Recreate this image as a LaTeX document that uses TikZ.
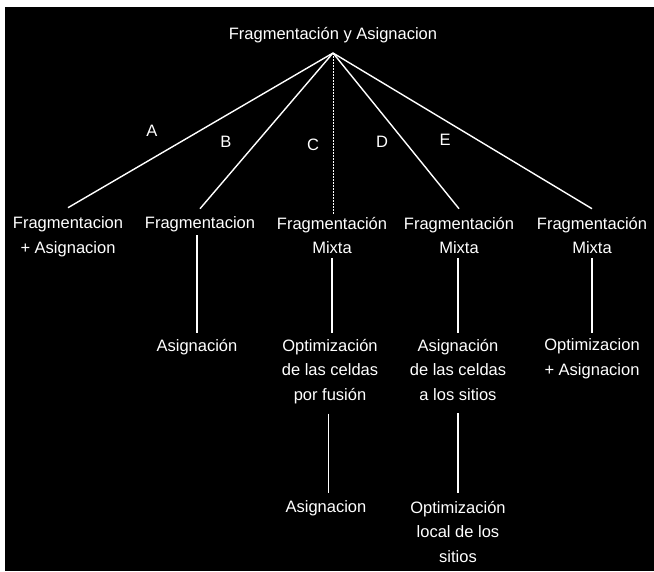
\documentclass[tikz,border=0pt]{standalone}
\usepackage{fontspec}
\setmainfont{Liberation Sans}
\begin{document}
\begin{tikzpicture}[x=1pt,y=-1pt,
  lbl/.style={text=white, font=\fontsize{16.5}{24.5}\selectfont, align=center, inner sep=0pt, anchor=north},
  letter/.style={text=white, font=\fontsize{16.5}{20}\selectfont, inner sep=0pt},
  edge/.style={draw=white, line width=1.4pt},
  dotedge/.style={draw=white, line width=1pt, dash pattern=on 2pt off 1pt},
  vline/.style={draw=white, line width=1.1pt}]
\useasboundingbox (0,0) rectangle (654,571);
\fill[white] (0,0) rectangle (654,571);
\fill[black] (5,7) rectangle (654,571);
% title
\node[lbl] (title) at (333,26.7) {Fragmentación y Asignacion};
\coordinate (apex) at (333,53);
% level 1
\node[lbl] (n1) at (68,216.7) {Fragmentacion\\+ Asignacion};
\node[lbl] (n2) at (200,216.7) {Fragmentacion};
\node[lbl] (n3) at (332,216.7) {Fragmentación\\Mixta};
\node[lbl] (n4) at (459,216.7) {Fragmentación\\Mixta};
\node[lbl] (n5) at (592,216.7) {Fragmentación\\Mixta};
% branch letters
\node[letter] (la) at (152,131) {A};
\node[letter] (lb) at (226,142) {B};
\node[letter] (lc) at (313,145) {C};
\node[letter] (ld) at (382,142) {D};
\node[letter] (le) at (445,140) {E};
% level 2
\node[lbl] (m2) at (197,338.7) {Asignación};
\node[lbl] (m3) at (330,338.7) {Optimización\\de las celdas\\por fusión};
\node[lbl] (m4) at (458,338.7) {Asignación\\de las celdas\\a los sitios};
\node[lbl] (m5) at (592,338.7) {Optimizacion\\+ Asignacion};
% level 3
\node[lbl] (k3) at (326,500.7) {Asignacion};
\node[lbl] (k4) at (458,500.7) {Optimización\\local de los\\sitios};
% connectors from apex
\draw[edge] (apex) -- ([yshift=9pt]n1.north);
\draw[edge] (apex) -- ([yshift=8pt]n2.north);
\draw[dotedge] (apex) -- ([yshift=2pt]apex |- n3.north);
\draw[edge] (apex) -- ([yshift=8pt]n4.north);
\draw[edge] (apex) -- ([yshift=8pt]n5.north);
% level 1 -> level 2
\draw[vline] ([yshift=-3pt]m2.north |- n2.south) -- ([yshift=5.7pt]m2.north);
\draw[vline] ([yshift=-4pt]n3.south) -- ([yshift=5.7pt]n3.south |- m3.north);
\draw[vline] ([yshift=-4pt]m4.north |- n4.south) -- ([yshift=5.7pt]m4.north);
\draw[vline] ([yshift=-4pt]n5.south) -- ([yshift=5.7pt]m5.north);
% level 2 -> level 3
\draw[vline] ([xshift=-1.5pt,yshift=-10pt]m3.south) -- ([xshift=2.5pt,yshift=7.7pt]k3.north);
\draw[vline] ([yshift=-13pt]m4.south) -- ([yshift=7.7pt]k4.north);
\end{tikzpicture}
\end{document}
